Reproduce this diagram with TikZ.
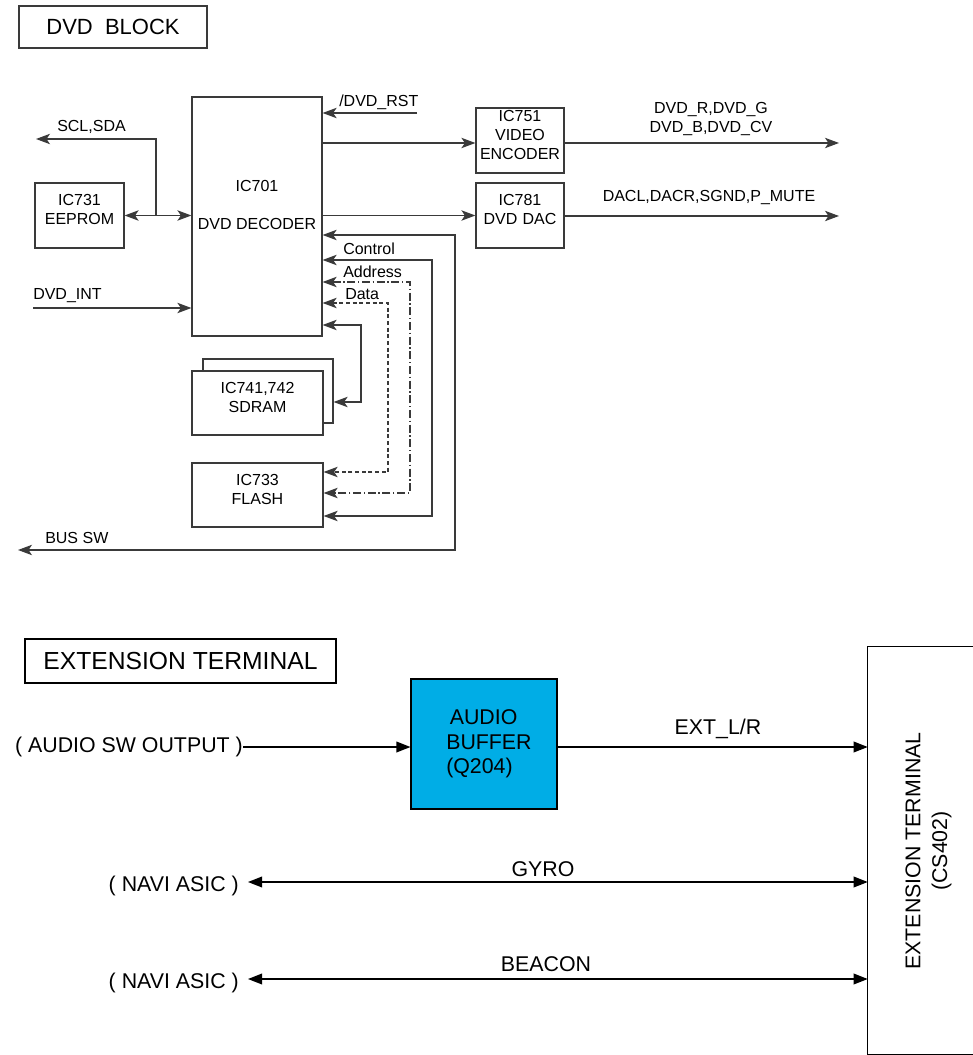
\documentclass[tikz,border=0pt]{standalone}
\usepackage{fontspec}
\setmainfont{Liberation Sans}
\usetikzlibrary{arrows.meta,fit}
\definecolor{ln}{HTML}{3A3A3A}
\definecolor{bufblue}{HTML}{00ADE6}
\tikzset{
  ub/.style={draw=ln, line width=0.9pt, inner sep=0pt, fill=white},
  ut/.style={font=\fontsize{12}{14.3}\selectfont, inner sep=0pt, align=center},
  uw/.style={draw=ln, line width=0.9pt},
  ua/.style={-{Stealth[length=10.5pt,width=7.8pt,inset=2.6pt]}},
  uboth/.style={{Stealth[length=10.5pt,width=7.8pt,inset=2.6pt]}-{Stealth[length=10.5pt,width=7.8pt,inset=2.6pt]}},
  dashd/.style={dash pattern=on 3pt off 2pt},
  dashdot/.style={dash pattern=on 6pt off 2pt on 1pt off 2pt},
  lt/.style={font=\fontsize{16}{18.4}\selectfont, inner sep=0pt},
  lw/.style={draw=black, line width=1pt},
  la/.style={-{Triangle[length=10.5pt,width=8pt]}},
  lboth/.style={{Triangle[length=10.5pt,width=8pt]}-{Triangle[length=10.5pt,width=8pt]}}
}
\begin{document}
\begin{tikzpicture}[x=0.75pt,y=-0.75pt]
\useasboundingbox (0,0) rectangle (973,1055);
% ---------- DVD BLOCK ----------
\node[ub, fit={(19,6)(207,48)}] (t1) {};
\node[inner sep=0pt, font=\fontsize{16.5}{18}\selectfont] (t1txt) at (t1.center) {DVD\ \ BLOCK};

\node[ub, fit={(192,97)(322,336)}] (ic701) {};
\node[ut] (ic701a) at (257,186) {IC701};
\node[ut] (ic701b) at (257,224) {DVD DECODER};
\node[ub, fit={(35,183)(124,248)}, ut] (ic731) {IC731\\EEPROM};
\node[ub, fit={(476,108)(564,173)}, ut] (ic751) {IC751\\VIDEO\\ENCODER};
\node[ub, fit={(476,183)(564,248)}, ut] (ic781) {IC781\\DVD DAC};
\node[ub, fit={(203,359)(333,423)}] (sdramb) {};
\node[ub, fit={(192,371)(323,435)}, ut] (sdram) {IC741,742\\SDRAM};
\node[ub, fit={(192,463)(323,527)}, ut] (flash) {IC733\\FLASH};

% coordinates
\coordinate (scl) at (36,139);
\coordinate (j1) at (156,216);
\coordinate (int) at (33,308);
\coordinate (rst) at (417,113);
\coordinate (yv) at (0,143);
\coordinate (vout) at (839,143);
\coordinate (aout) at (839,216);
\coordinate (bsc) at (455,235);
\coordinate (bsb) at (455,550);
\coordinate (bsw) at (18,550);
\coordinate (cc) at (432,260);
\coordinate (cb) at (432,516);
\coordinate (ac) at (410,282);
\coordinate (ab) at (410,493);
\coordinate (dc) at (388,303);
\coordinate (db) at (388,472);
\coordinate (sc) at (361,325);
\coordinate (sb) at (361,402);

% connectors
\draw[uw, ua] (j1) |- (scl);
\draw[uw, uboth] (ic731.east) -- (ic701.west |- ic731.east);
\draw[uw, ua] (int) -- (ic701.west |- int);
\draw[uw, ua] (rst) -- (ic701.east |- rst);
\draw[uw, ua] (ic701.east |- yv) -- (ic751.west |- yv);
\draw[uw, ua] (ic701.east |- ic781.west) -- (ic781.west);
\draw[uw, ua] (ic751.east |- vout) -- (vout);
\draw[uw, ua] (ic781.east |- aout) -- (aout);
\draw[uw, uboth] (ic701.east |- bsc) -- (bsc) -- (bsb) -- (bsw);
\draw[uw, uboth] (ic701.east |- cc) -- (cc) -- (cb) -- (flash.east |- cb);
\draw[uw, uboth, dashdot] (ic701.east |- ac) -- (ac) -- (ab) -- (flash.east |- ab);
\draw[uw, uboth, dashd] (ic701.east |- dc) -- (dc) -- (db) -- (flash.east |- db);
\draw[uw, uboth] (ic701.east |- sc) -- (sc) -- (sb) -- (sdramb.east |- sb);

% labels
\node[ut, anchor=west] (lscl) at (57,127) {SCL,SDA};
\node[ut, anchor=west] (lint) at (33,296) {DVD\_INT};
\node[ut, anchor=west] (lrst) at (339,102) {/DVD\_RST};
\node[ut] (lvid) at (711,119) {DVD\_R,DVD\_G\\DVD\_B,DVD\_CV};
\node[ut] (ldac) at (709,198) {DACL,DACR,SGND,P\_MUTE};
\node[ut, anchor=west] (lbus) at (45,538) {BUS SW};
\node[ut, anchor=west] (lctl) at (343,249) {Control};
\node[ut, anchor=west] (ladr) at (343,272) {Address};
\node[ut, anchor=west] (ldat) at (345,294) {Data};

% ---------- EXTENSION TERMINAL ----------
\node[draw=black, line width=0.8pt, inner sep=0pt, fit={(25,639)(336,683)}] (t2) {};
\node[inner sep=0pt, font=\fontsize{18.5}{20}\selectfont] (t2txt) at (t2.center) {EXTENSION TERMINAL};

\node[draw=black, fill=bufblue, line width=0.8pt, inner sep=0pt, fit={(411,679)(557,809)}] (buf) {};
\node[lt, align=left, anchor=west] (buftxt) at (446,744) {\,AUDIO\\BUFFER\\(Q204)};

\node[inner sep=0pt, fit={(868,647)(973,1054)}] (ext) {};
\draw[lw] (ext.north east) -- (ext.north west) -- (ext.south west) -- (ext.south east);
\node[lt, rotate=90, align=center, font=\fontsize{16}{20.2}\selectfont] (exttxt) at (928.5,851) {EXTENSION TERMINAL\\(CS402)};

\node[lt, anchor=east] (aso) at (243,747) {( AUDIO SW OUTPUT )};
\node[lt, anchor=east] (navi1) at (239,886) {( NAVI ASIC )};
\node[lt, anchor=east] (navi2) at (239,983) {( NAVI ASIC )};
\coordinate (g) at (248,882);
\coordinate (b) at (248,979);

\draw[lw, la] (aso.east) -- (buf.west |- aso.east);
\draw[lw, la] (buf.east |- aso.east) -- (ext.west |- aso.east);
\draw[lw, lboth] (g) -- (ext.west |- g);
\draw[lw, lboth] (b) -- (ext.west |- b);

\node[lt] (lext) at (718,729) {EXT\_L/R};
\node[lt] (lgyro) at (543,869) {GYRO};
\node[lt] (lbeacon) at (546,964) {BEACON};
\end{tikzpicture}
\end{document}
